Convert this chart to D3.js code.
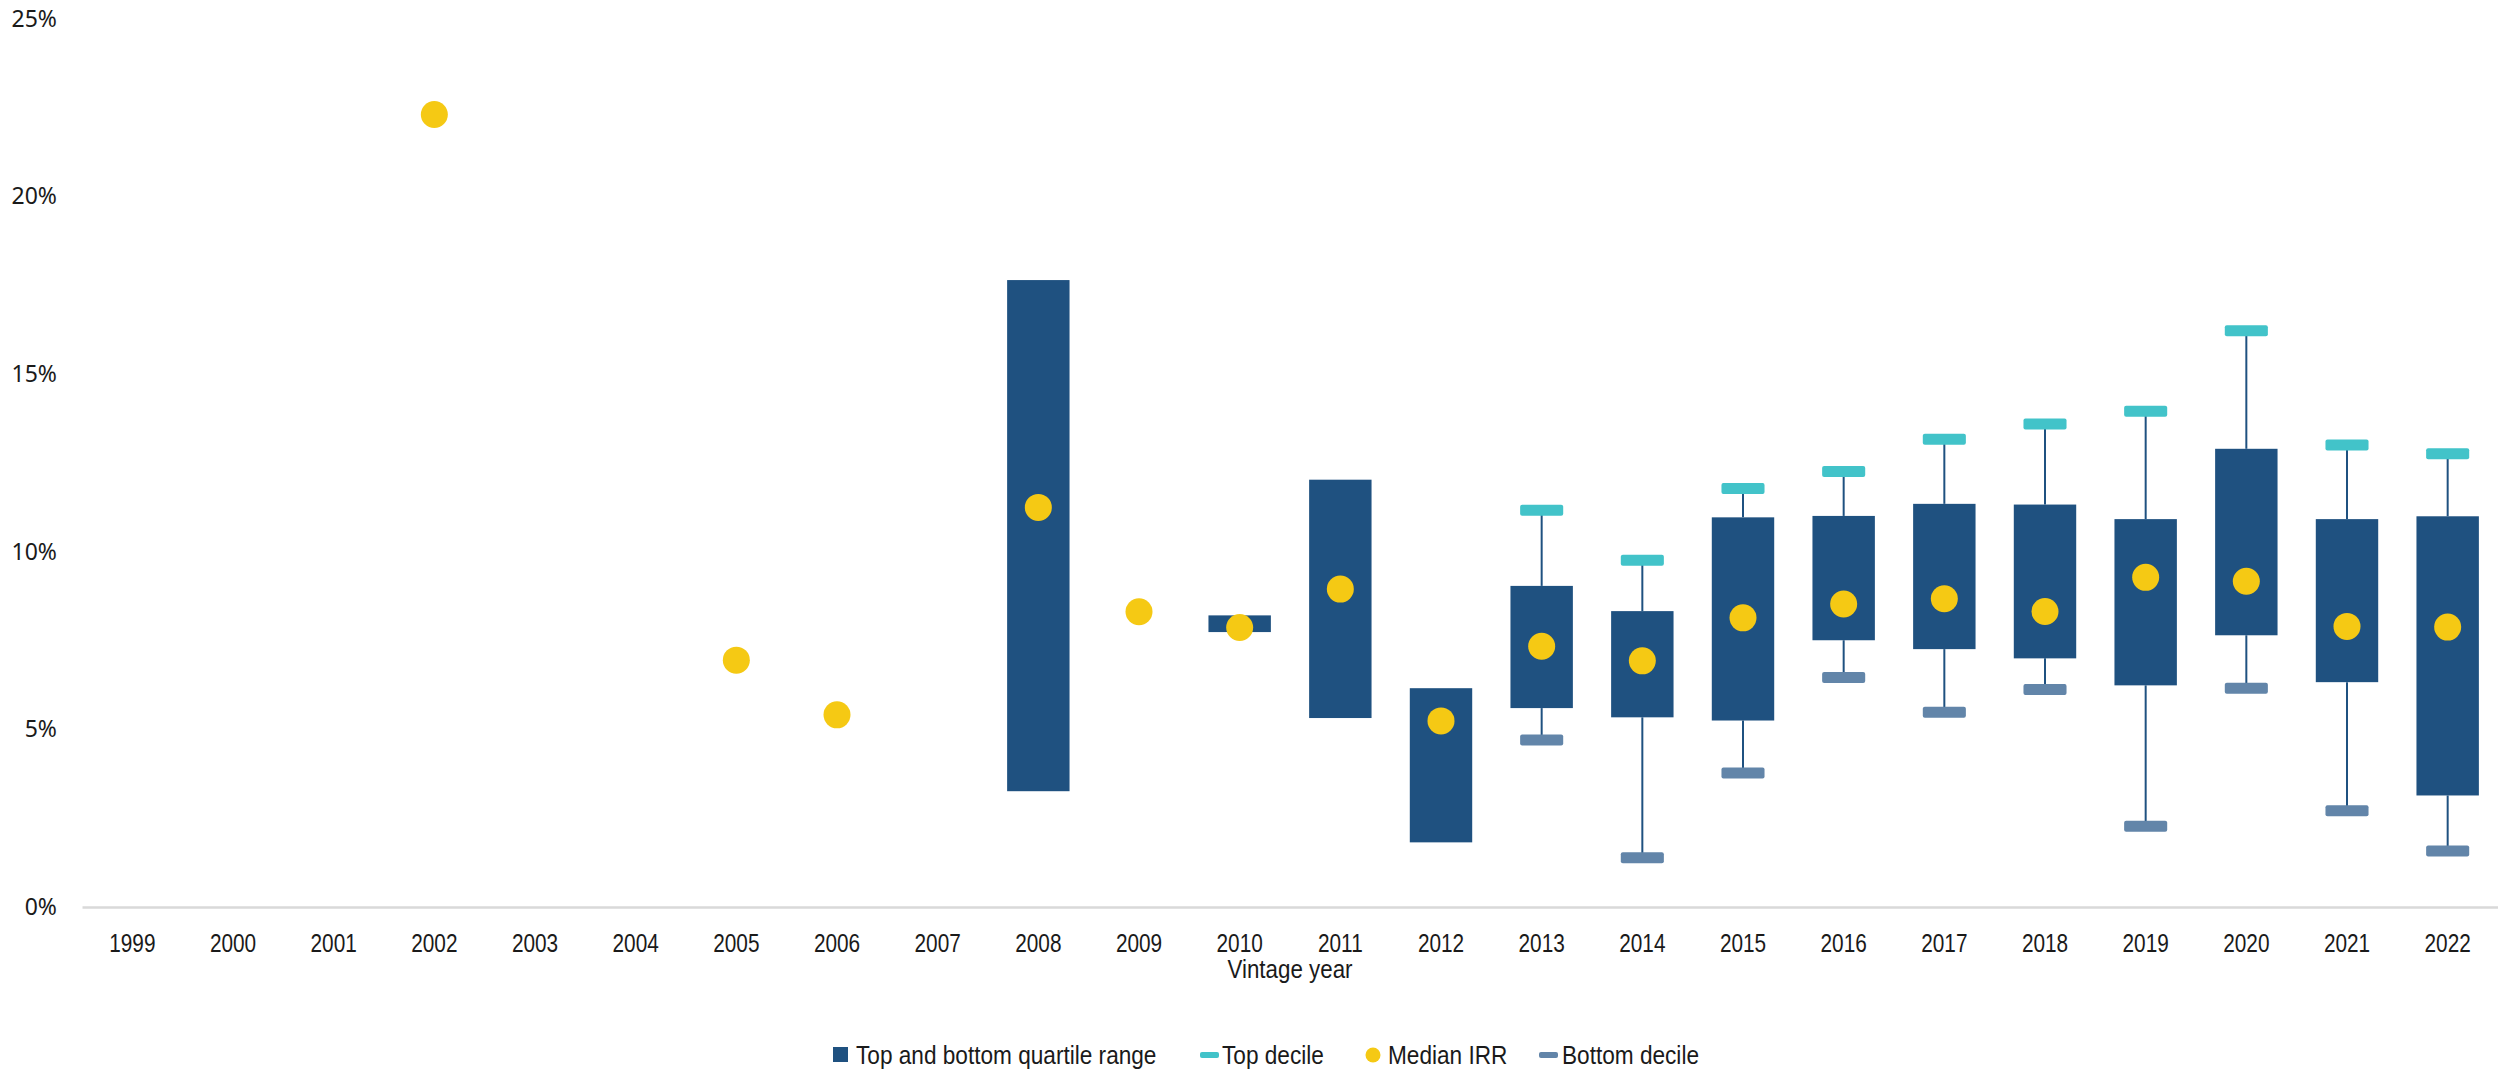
<!DOCTYPE html>
<html>
<head>
<meta charset="utf-8">
<script src="https://cdn.jsdelivr.net/npm/d3@7"></script>
<style>
  html, body { margin: 0; padding: 0; background: #ffffff; }
  svg { display: block; }
</style>
</head>
<body>
<svg id="chart" width="2498" height="1074"></svg>
<script>
// ---- Data (values in %) ----
const years = ["1999","2000","2001","2002","2003","2004","2005","2006","2007","2008","2009","2010",
               "2011","2012","2013","2014","2015","2016","2017","2018","2019","2020","2021","2022"];
const topQuartile = [null,null,null,null,null,null,null,null,null,17.65,null,8.21,
                     12.03,6.16,9.04,8.33,10.97,11.01,11.35,11.33,10.92,12.90,10.92,11.00];
const bottomQuartile = [null,null,null,null,null,null,null,null,null,3.26,null,7.74,
                        5.32,1.82,5.60,5.34,5.25,7.51,7.26,7.00,6.24,7.65,6.33,3.14];
const medianIRR = [null,null,null,22.31,null,null,6.95,5.41,null,11.25,8.31,7.87,
                   8.95,5.24,7.34,6.93,8.14,8.53,8.68,8.32,9.28,9.17,7.90,7.88];
const topDecile = [null,null,null,null,null,null,null,null,null,null,null,null,
                   null,null,11.17,9.76,11.78,12.26,13.17,13.60,13.96,16.22,13.01,12.76];
const bottomDecile = [null,null,null,null,null,null,null,null,null,null,null,null,
                      null,null,4.70,1.39,3.77,6.46,5.48,6.12,2.27,6.16,2.71,1.58];
const yTicks = [0, 5, 10, 15, 20, 25];
const legendLabels = ["Top and bottom quartile range", "Top decile", "Median IRR", "Bottom decile"];
const xTitle = "Vintage year";

(function () {
// ---- Styles ----
const C_BOX = "#1f5180";
const C_TOP = "#42c3c9";
const C_BOT = "#6285a9";
const C_MED = "#f5c914";
const C_AXIS = "#d9d9d9";
const FONT_NARROW = "'Liberation Sans', Arial, sans-serif";
const NARROW_TICK = 0.8, NARROW_TITLE = 0.86, NARROW_LEG = 0.87;
const FONT_Y = "'Noto Sans', 'Open Sans', sans-serif";

const svg = d3.select("#chart");
const mLeft = 82, mRight = 2498, mTop = 19, mBottom = 907;

const x = d3.scaleBand().domain(years).range([mLeft, mRight]).paddingInner(0.38).paddingOuter(0.19);
const y = d3.scaleLinear().domain([0, 25]).range([mBottom, mTop]);

// Y axis labels
const yAxis = d3.axisLeft(y).tickValues(yTicks).tickFormat(d => d + "%").tickSize(0).tickPadding(0);
const gy = svg.append("g").attr("transform", "translate(57,0)").call(yAxis);
gy.select(".domain").remove();
gy.selectAll("text").attr("font-family", FONT_Y).attr("font-size", 23).attr("fill", "#1a1a1a");

// X axis
const xAxis = d3.axisBottom(x).tickSize(0).tickPadding(0);
const gx = svg.append("g").attr("transform", `translate(0,${mBottom})`).call(xAxis);
gx.select(".domain").attr("stroke", C_AXIS).attr("stroke-width", 2.5);
gx.selectAll("text")
  .attr("y", 0).attr("dy", 0)
  .attr("transform", `translate(0,45) scale(${NARROW_TICK},1)`)
  .attr("font-family", FONT_NARROW).attr("font-size", 26).attr("fill", "#1a1a1a");

svg.append("text")
  .attr("transform", `translate(${(mLeft + mRight) / 2},978) scale(${NARROW_TITLE},1)`)
  .attr("text-anchor", "middle")
  .attr("font-family", FONT_NARROW).attr("font-size", 26).attr("fill", "#1a1a1a")
  .text(xTitle);

const rows = years.map((yr, i) => ({
  yr, q3: topQuartile[i], q1: bottomQuartile[i], med: medianIRR[i],
  td: topDecile[i], bd: bottomDecile[i]
}));

const bw = x.bandwidth();
const cx = d => x(d.yr) + bw / 2;
const capW = bw * 0.69, capH = 11;

const g = svg.append("g");
// Whiskers
g.selectAll("line.wTop").data(rows.filter(d => d.td != null && d.q3 != null)).join("line")
  .attr("class", "wTop")
  .attr("x1", cx).attr("x2", cx)
  .attr("y1", d => y(d.td)).attr("y2", d => y(d.q3))
  .attr("stroke", C_BOX).attr("stroke-width", 2);
g.selectAll("line.wBot").data(rows.filter(d => d.bd != null && d.q1 != null)).join("line")
  .attr("class", "wBot")
  .attr("x1", cx).attr("x2", cx)
  .attr("y1", d => y(d.q1)).attr("y2", d => y(d.bd))
  .attr("stroke", C_BOX).attr("stroke-width", 2);

// Boxes
g.selectAll("rect.box").data(rows.filter(d => d.q3 != null && d.q1 != null)).join("rect")
  .attr("class", "box")
  .attr("x", d => x(d.yr)).attr("width", bw)
  .attr("y", d => y(d.q3)).attr("height", d => y(d.q1) - y(d.q3))
  .attr("fill", C_BOX);

// Decile caps
g.selectAll("rect.td").data(rows.filter(d => d.td != null)).join("rect")
  .attr("class", "td")
  .attr("x", d => cx(d) - capW / 2).attr("width", capW)
  .attr("y", d => y(d.td) - capH / 2).attr("height", capH)
  .attr("rx", 2).attr("fill", C_TOP);
g.selectAll("rect.bd").data(rows.filter(d => d.bd != null)).join("rect")
  .attr("class", "bd")
  .attr("x", d => cx(d) - capW / 2).attr("width", capW)
  .attr("y", d => y(d.bd) - capH / 2).attr("height", capH)
  .attr("rx", 2).attr("fill", C_BOT);

// Median dots
g.selectAll("circle.med").data(rows.filter(d => d.med != null)).join("circle")
  .attr("class", "med")
  .attr("cx", cx).attr("cy", d => y(d.med)).attr("r", 13.5)
  .attr("fill", C_MED);

// Legend
const lg = svg.append("g").attr("font-family", FONT_NARROW).attr("font-size", 26).attr("fill", "#1a1a1a");
const ly = 1055;
const legendItems = [
  { x: 833, label: legendLabels[0], draw: s => s.append("rect").attr("x", 0).attr("y", -8).attr("width", 15).attr("height", 15).attr("fill", C_BOX), tx: 23 },
  { x: 1200, label: legendLabels[1], draw: s => s.append("rect").attr("x", 0).attr("y", -3).attr("width", 19).attr("height", 6).attr("rx", 2).attr("fill", C_TOP), tx: 22 },
  { x: 1365, label: legendLabels[2], draw: s => s.append("circle").attr("cx", 8).attr("cy", 0).attr("r", 7.5).attr("fill", C_MED), tx: 23 },
  { x: 1539, label: legendLabels[3], draw: s => s.append("rect").attr("x", 0).attr("y", -3).attr("width", 19).attr("height", 6).attr("rx", 2).attr("fill", C_BOT), tx: 23 }
];
legendItems.forEach(it => {
  const s = lg.append("g").attr("transform", `translate(${it.x},${ly})`);
  it.draw(s);
  s.append("text")
    .attr("transform", `translate(${it.tx},0) scale(${NARROW_LEG},1)`)
    .attr("dy", "0.35em").text(it.label);
});
})();
</script>
</body>
</html>
